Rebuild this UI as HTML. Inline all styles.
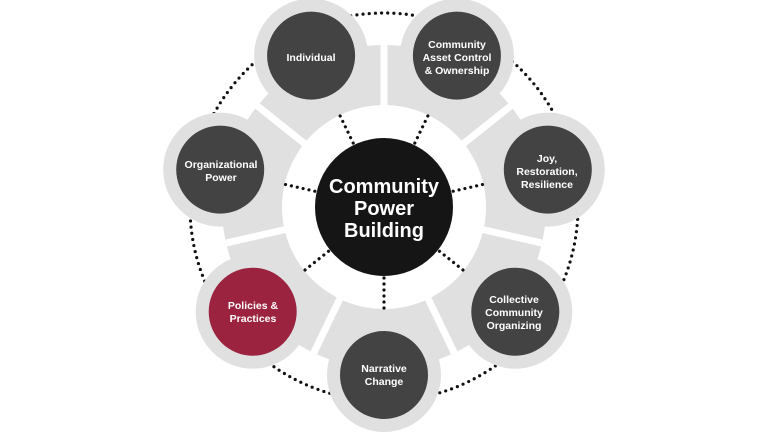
<!DOCTYPE html>
<html><head><style>
html,body{margin:0;padding:0;background:#fff;}
svg{display:block;}
text{font-family:"Liberation Sans",sans-serif;font-weight:bold;fill:#fff;text-anchor:middle;}
</style></head><body>
<svg width="768" height="432" viewBox="0 0 768 432" xmlns="http://www.w3.org/2000/svg">
<circle cx="384" cy="207" r="194" fill="none" stroke="#111" stroke-width="3.2" stroke-linecap="round" stroke-dasharray="0 6.2"/>
<circle cx="384" cy="207" r="162" fill="#e0e0e0"/>
<g fill="#e0e0e0">
<circle cx="384" cy="375" r="57"/><circle cx="252.7" cy="311.7" r="57"/><circle cx="220.2" cy="169.6" r="57"/>
<circle cx="311.1" cy="55.6" r="57"/><circle cx="456.9" cy="55.6" r="57"/><circle cx="547.8" cy="169.6" r="57"/><circle cx="515.3" cy="311.7" r="57"/>
</g>
<g stroke="#fff" stroke-width="7">
<line x1="480" y1="207" x2="550" y2="207" transform="rotate(115.71 384 207)"/>
<line x1="480" y1="207" x2="550" y2="207" transform="rotate(167.14 384 207)"/>
<line x1="480" y1="207" x2="550" y2="207" transform="rotate(218.57 384 207)"/>
<line x1="480" y1="207" x2="550" y2="207" transform="rotate(270 384 207)"/>
<line x1="480" y1="207" x2="550" y2="207" transform="rotate(321.43 384 207)"/>
<line x1="480" y1="207" x2="550" y2="207" transform="rotate(12.86 384 207)"/>
<line x1="480" y1="207" x2="550" y2="207" transform="rotate(64.29 384 207)"/>
</g>
<circle cx="384" cy="207" r="102" fill="#fff"/>
<g stroke="#111" stroke-width="3.2" stroke-linecap="round" stroke-dasharray="0 6">
<line x1="455" y1="207" x2="488" y2="207" transform="rotate(90 384 207)"/>
<line x1="455" y1="207" x2="488" y2="207" transform="rotate(141.43 384 207)"/>
<line x1="455" y1="207" x2="488" y2="207" transform="rotate(192.86 384 207)"/>
<line x1="455" y1="207" x2="488" y2="207" transform="rotate(244.29 384 207)"/>
<line x1="455" y1="207" x2="488" y2="207" transform="rotate(295.71 384 207)"/>
<line x1="455" y1="207" x2="488" y2="207" transform="rotate(347.14 384 207)"/>
<line x1="455" y1="207" x2="488" y2="207" transform="rotate(38.57 384 207)"/>
</g>
<circle cx="384" cy="207" r="69" fill="#151515"/>
<g fill="#434343">
<circle cx="384" cy="375" r="44"/><circle cx="220.2" cy="169.6" r="44"/>
<circle cx="311.1" cy="55.6" r="44"/><circle cx="456.9" cy="55.6" r="44"/><circle cx="547.8" cy="169.6" r="44"/><circle cx="515.3" cy="311.7" r="44"/>
</g>
<circle cx="252.7" cy="311.7" r="44" fill="#9b2340"/>
<g font-size="20">
<text x="384" y="193">Community</text>
<text x="384" y="215">Power</text>
<text x="384" y="237">Building</text>
</g>
<g font-size="10.5">
<text x="311" y="61">Individual</text>
<text x="457" y="48">Community</text>
<text x="457" y="61">Asset Control</text>
<text x="457" y="74">&amp; Ownership</text>
<text x="547" y="162">Joy,</text>
<text x="547" y="175">Restoration,</text>
<text x="547" y="188">Resilience</text>
<text x="514" y="303">Collective</text>
<text x="514" y="316">Community</text>
<text x="514" y="329">Organizing</text>
<text x="384" y="372">Narrative</text>
<text x="384" y="385">Change</text>
<text x="253" y="309">Policies &amp;</text>
<text x="253" y="322">Practices</text>
<text x="221" y="168">Organizational</text>
<text x="221" y="181">Power</text>
</g>
</svg>
</body></html>
